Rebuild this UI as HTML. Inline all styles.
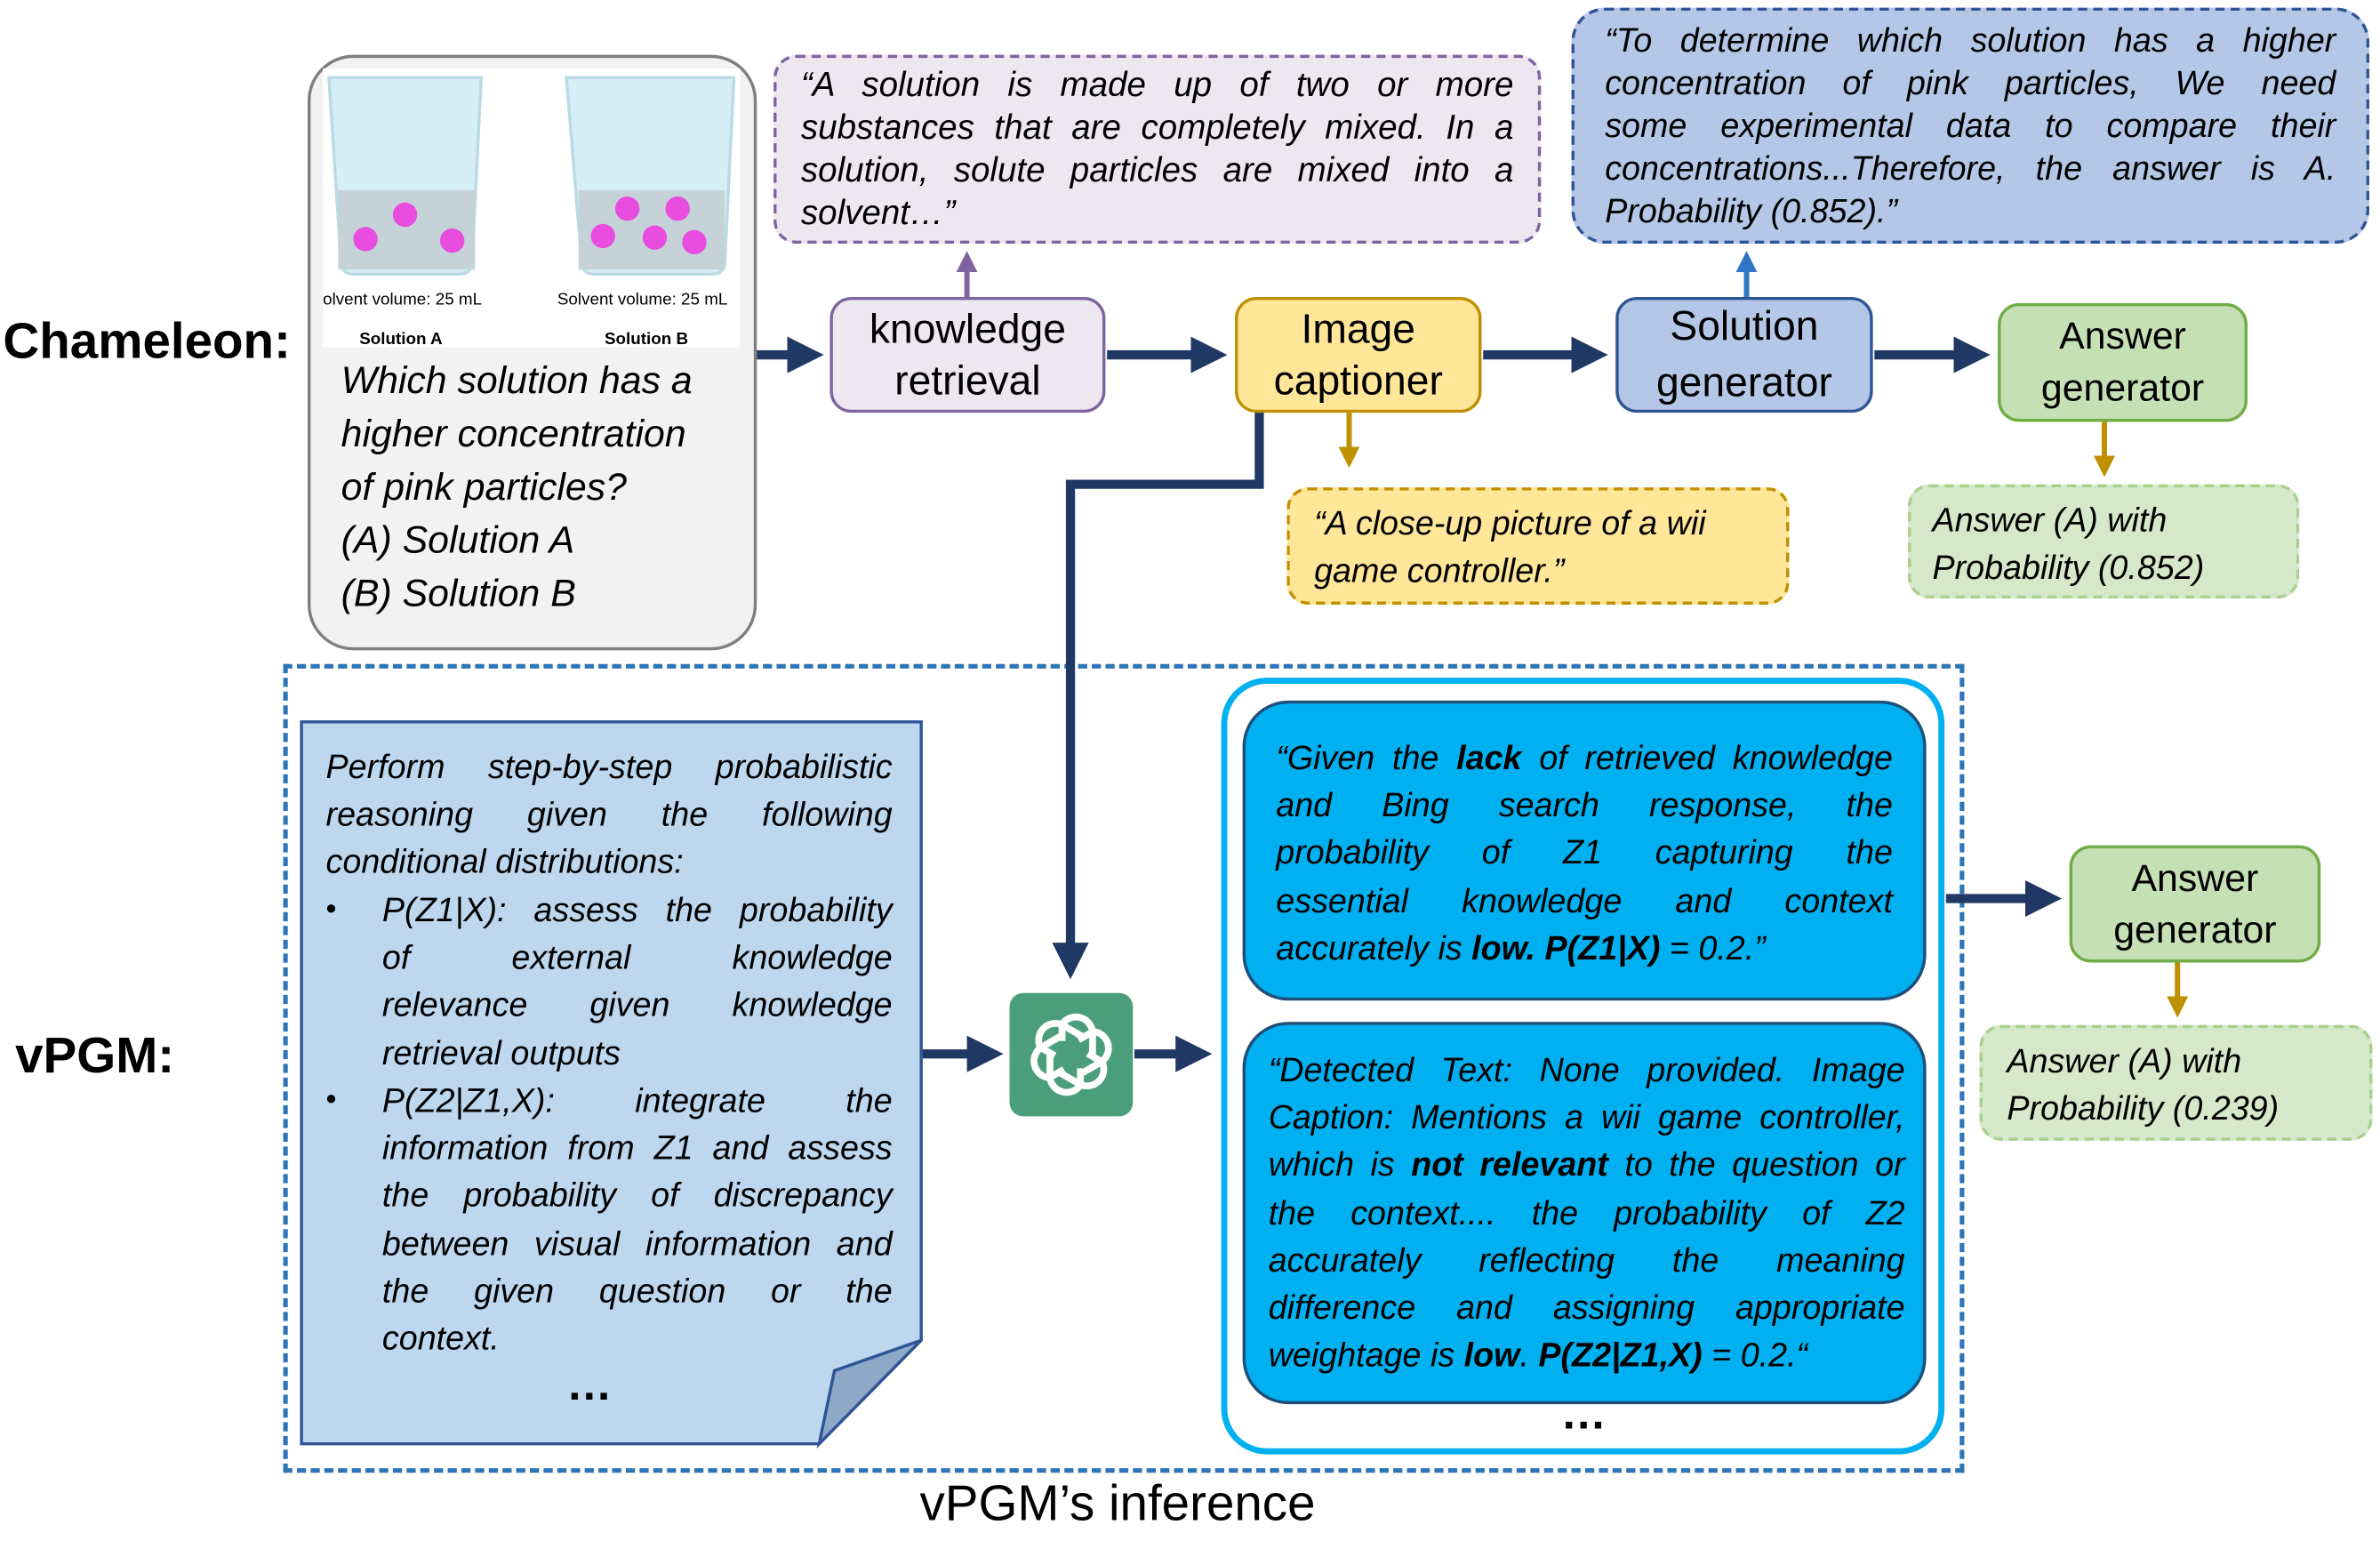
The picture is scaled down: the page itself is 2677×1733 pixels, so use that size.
<!DOCTYPE html>
<html><head><meta charset="utf-8"><style>
html,body{margin:0;padding:0;background:#fff;overflow:hidden}
#w{width:1563px;height:1012px;position:relative;transform:scale(1.71273);transform-origin:0 0;font-family:"Liberation Sans",sans-serif;color:#000}
.a{position:absolute;box-sizing:border-box}
.it{font-style:italic}
.j{text-align:justify;text-align-last:left}
.jl>div{text-align:justify;text-align-last:justify}
.jl>div.l{text-align-last:left}
.node{display:flex;align-items:center;justify-content:center;text-align:center;font-size:27px;line-height:34px;border-width:2.5px;border-style:solid;border-radius:14px}
</style></head><body><div id="w">

<div class="a" style="left:2px;top:205px;font-size:33px;font-weight:bold">Chameleon:</div>
<div class="a" style="left:10px;top:674px;font-size:33px;font-weight:bold">vPGM:</div>

<!-- question box -->
<div class="a" style="left:202px;top:36px;width:295px;height:391px;border:2.5px solid #7f7f7f;border-radius:30px;background:#f2f2f2"></div>
<div class="a" style="left:212px;top:45px;width:274px;height:183px;background:#fff"></div>
<svg class="a" style="left:212px;top:45px" width="274" height="183">
 <g fill="#d6eef5" stroke="#b9dbe6" stroke-width="2">
  <path d="M4 6 L104 6 L98 128 Q97 135 90 135 L20 135 Q13 135 12 128 Z"/>
  <path d="M160 6 L270 6 L264 128 Q263 135 256 135 L178 135 Q171 135 170 128 Z"/>
 </g>
 <rect x="10" y="80" width="90" height="52" fill="#c5d3d8"/>
 <rect x="168" y="80" width="96" height="52" fill="#c5d3d8"/>
 <g fill="#e84de0"><circle cx="28" cy="112" r="8"/><circle cx="54" cy="96" r="8"/><circle cx="85" cy="113" r="8"/>
 <circle cx="200" cy="92" r="8"/><circle cx="233" cy="92" r="8"/><circle cx="184" cy="110" r="8"/><circle cx="218" cy="111" r="8"/><circle cx="244" cy="114" r="8"/></g>
 <text x="0" y="155" font-size="11" font-family="Liberation Sans">olvent volume: 25 mL</text>
 <text x="154" y="155" font-size="11" font-family="Liberation Sans">Solvent volume: 25 mL</text>
 <text x="24" y="181" font-size="11" font-weight="bold" font-family="Liberation Sans">Solution A</text>
 <text x="185" y="181" font-size="11" font-weight="bold" font-family="Liberation Sans">Solution B</text>
</svg>
<div class="a it" style="left:224px;top:233px;font-size:25px;line-height:35px">Which solution has a<br>higher concentration<br>of pink particles?<br>(A) Solution A<br>(B) Solution B</div>

<!-- purple dashed -->
<div class="a it j" style="left:508px;top:36px;width:504px;height:124px;background:#ede8f0;border:2.5px dashed #8064a2;border-radius:15px;padding:4px 16px;font-size:22.5px;line-height:28px">“A solution is made up of two or more substances that are completely mixed. In a solution, solute particles are mixed into a solvent…”</div>
<!-- blue dashed -->
<div class="a it jl" style="left:1032px;top:5px;width:524px;height:155px;background:#b4c7e7;border:2.5px dashed #2f5597;border-radius:22px;padding:6px 20px;font-size:22px;line-height:28px">
<div>“To determine which solution has a higher</div>
<div>concentration of pink particles, We need</div>
<div>some experimental data to compare their</div>
<div>concentrations...Therefore, the answer is A.</div>
<div class="l">Probability (0.852).”</div></div>

<div class="a node" style="left:545px;top:195px;width:181px;height:76px;background:#ede8f0;border-color:#8064a2">knowledge<br>retrieval</div>
<div class="a node" style="left:811px;top:195px;width:162px;height:76px;background:#ffe699;border-color:#bf9000">Image<br>captioner</div>
<div class="a node" style="left:1061px;top:195px;width:169px;height:76px;background:#b4c7e7;border-color:#2f5597;line-height:37px">Solution<br>generator</div>
<div class="a node" style="left:1312px;top:199px;width:164px;height:78px;background:#c5e0b4;border-color:#70ad47;font-size:25px">Answer<br>generator</div>

<div class="a it" style="left:845px;top:320px;width:330px;height:77px;background:#ffe699;border:2.5px dashed #bf9000;border-radius:14px;padding:6px 16px;font-size:22px;line-height:31px">“A close-up picture of a wii game controller.”</div>
<div class="a it" style="left:1253px;top:318px;width:257px;height:75px;background:#d5e8c9;border:2.5px dashed #a9d18e;border-radius:14px;padding:6px 14px;font-size:22px;line-height:31px">Answer (A) with Probability (0.852)</div>

<!-- vPGM region -->
<div class="a" style="left:186px;top:436px;width:1104px;height:531px;border:3px dashed #2e75b6"></div>
<svg class="a" style="left:196px;top:472px" width="412" height="480">
 <path d="M2 2 L409 2 L409 408 L342 476 L2 476 Z" fill="#bdd7ee" stroke="#2f5597" stroke-width="2"/>
 <path d="M342 476 L352 428 L409 408 Z" fill="#8ea9c8" stroke="#2f5597" stroke-width="2"/>
</svg>
<div class="a it jl" style="left:214px;top:488px;width:372px;font-size:22px;line-height:31.2px">
<div>Perform step-by-step probabilistic</div>
<div>reasoning given the following</div>
<div class="l">conditional distributions:</div></div>
<div class="a it jl" style="left:251px;top:582px;width:335px;font-size:22px;line-height:31.2px">
<div>P(Z1|X): assess the probability</div>
<div>of external knowledge</div>
<div>relevance given knowledge</div>
<div class="l">retrieval outputs</div></div>
<div class="a it jl" style="left:251px;top:707px;width:335px;font-size:22px;line-height:31.2px">
<div>P(Z2|Z1,X): integrate the</div>
<div>information from Z1 and assess</div>
<div>the probability of discrepancy</div>
<div>between visual information and</div>
<div>the given question or the</div>
<div class="l">context.</div></div>
<div class="a" style="left:214px;top:582px;font-size:20px;line-height:31px">•</div>
<div class="a" style="left:214px;top:707px;font-size:20px;line-height:31px">•</div>
<div class="a" style="left:372px;top:893px;font-size:30px;font-weight:bold">…</div>

<!-- GPT icon -->
<div class="a" style="left:663px;top:652px;width:81px;height:81px;background:#4a9e7c;border-radius:9px"></div>
<svg class="a" style="left:663px;top:652px" width="81" height="81" viewBox="0 0 81 81">
 <g fill="none" stroke="#fff" stroke-width="4.5" stroke-linejoin="round">
  <g transform="translate(40.5 40.5)">
   <path id="p" d="M-6 -9 L-6 -20 A11 11 0 0 1 14 -15 L14 1"/>
   <use href="#p" transform="rotate(60)"/><use href="#p" transform="rotate(120)"/>
   <use href="#p" transform="rotate(180)"/><use href="#p" transform="rotate(240)"/><use href="#p" transform="rotate(300)"/>
  </g>
 </g>
</svg>

<!-- cyan box -->
<div class="a" style="left:802px;top:445px;width:475px;height:510px;border:4px solid #00b0f0;border-radius:30px;background:#fff"></div>
<div class="a it jl" style="left:816px;top:460px;width:449px;height:197px;background:#00b0f0;border:2.5px solid #1f4e79;border-radius:30px;padding:20px 20px 0 20px;font-size:22px;line-height:31.2px">
<div>“Given the <b>lack</b> of retrieved knowledge</div>
<div>and Bing search response, the</div>
<div>probability of Z1 capturing the</div>
<div>essential knowledge and context</div>
<div class="l">accurately is <b>low. P(Z1|X)</b> = 0.2.”</div></div>
<div class="a it jl" style="left:816px;top:671px;width:449px;height:251px;background:#00b0f0;border:2.5px solid #1f4e79;border-radius:30px;padding:14px 12px 0 15px;font-size:22px;line-height:31.2px">
<div>“Detected Text: None provided. Image</div>
<div>Caption: Mentions a wii game controller,</div>
<div>which is <b>not relevant</b> to the question or</div>
<div>the context.... the probability of Z2</div>
<div>accurately reflecting the meaning</div>
<div>difference and assigning appropriate</div>
<div class="l">weightage is <b>low</b>. <b>P(Z2|Z1,X)</b> = 0.2.“</div></div>
<div class="a" style="left:1025px;top:912px;font-size:30px;font-weight:bold">…</div>

<div class="a node" style="left:1359px;top:555px;width:165px;height:77px;background:#c5e0b4;border-color:#70ad47;font-size:25px">Answer<br>generator</div>
<div class="a it" style="left:1300px;top:673px;width:258px;height:76px;background:#d5e8c9;border:2.5px dashed #a9d18e;border-radius:14px;padding:6px 16px;font-size:22px;line-height:31px">Answer (A) with Probability (0.239)</div>

<div class="a" style="left:604px;top:968px;font-size:33px">vPGM’s inference</div>

<!-- arrows -->
<svg class="a" style="left:0;top:0" width="1563" height="1012">
 <defs>
  <marker id="n" markerWidth="4" markerHeight="4" refX="2.5" refY="2" orient="auto"><path d="M0 0 L4 2 L0 4 Z" fill="#203864"/></marker>
  <marker id="pu" markerWidth="4" markerHeight="4" refX="2.5" refY="2" orient="auto"><path d="M0 0 L4 2 L0 4 Z" fill="#8064a2"/></marker>
  <marker id="bl" markerWidth="4" markerHeight="4" refX="2.5" refY="2" orient="auto"><path d="M0 0 L4 2 L0 4 Z" fill="#2f75c6"/></marker>
  <marker id="go" markerWidth="4" markerHeight="4" refX="2.5" refY="2" orient="auto"><path d="M0 0 L4 2 L0 4 Z" fill="#bf9000"/></marker>
 </defs>
 <g stroke="#203864" stroke-width="6" fill="none" marker-end="url(#n)">
  <path d="M497 233 L532 233"/>
  <path d="M727 233 L797 233"/>
  <path d="M974 233 L1047 233"/>
  <path d="M1231 233 L1298 233"/>
  <path d="M827 271 L827 318 L703 318 L703 634"/>
  <path d="M606 692 L650 692"/>
  <path d="M745 692 L787 692"/>
  <path d="M1278 590 L1345 590"/>
 </g>
 <path d="M635 195 L635 170" stroke="#8064a2" stroke-width="3.5" marker-end="url(#pu)"/>
 <path d="M1147 195 L1147 170" stroke="#2f75c6" stroke-width="3.5" marker-end="url(#bl)"/>
 <path d="M886 271 L886 302" stroke="#bf9000" stroke-width="3.5" marker-end="url(#go)"/>
 <path d="M1382 277 L1382 308" stroke="#bf9000" stroke-width="3.5" marker-end="url(#go)"/>
 <path d="M1430 632 L1430 663" stroke="#bf9000" stroke-width="3.5" marker-end="url(#go)"/>
</svg>
</div></body></html>
